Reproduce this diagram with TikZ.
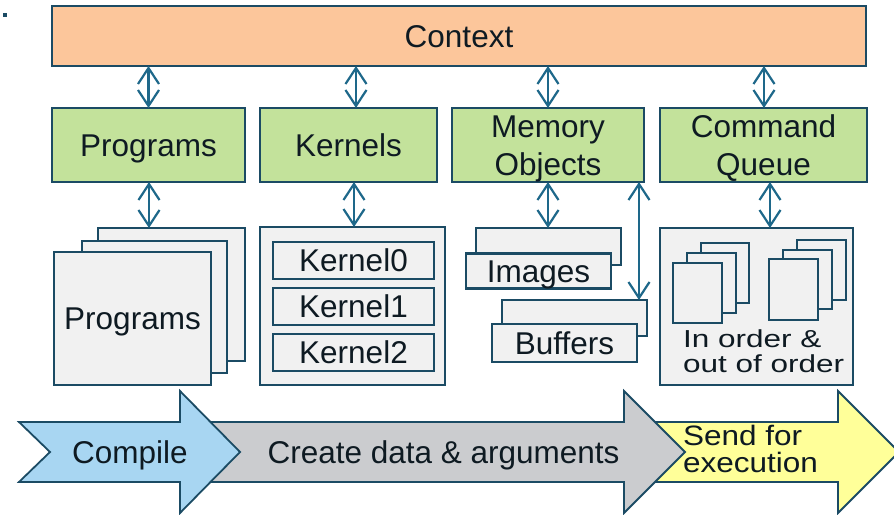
\documentclass[tikz,border=0pt]{standalone}
\usepackage{fontspec}
\setmainfont{Liberation Sans}
\usepackage{graphicx}
\usetikzlibrary{arrows.meta}
\definecolor{edge}{RGB}{27,75,100}
\definecolor{arrowc}{RGB}{30,104,138}
\definecolor{peach}{RGB}{252,198,155}
\definecolor{grn}{RGB}{195,226,155}
\definecolor{sheetc}{RGB}{241,241,241}
\definecolor{blueA}{RGB}{168,214,242}
\definecolor{grayA}{RGB}{203,204,207}
\definecolor{yellowA}{RGB}{255,255,153}
\definecolor{txt}{RGB}{14,26,34}
\begin{document}
\begin{tikzpicture}[x=1pt,y=-1pt,
  every node/.style={text=txt, font=\fontsize{31.5}{34}\selectfont, inner sep=0pt, outer sep=0pt,
    text height=22.6pt, text depth=0pt},
  box/.style={draw=edge, line width=2.5pt, rectangle},
  gbox/.style={box, fill=grn},
  twoline/.style={text depth=37pt, font=\fontsize{31.5}{37.5}\selectfont},
  sheet/.style={box, fill=sheetc},
  kbox/.style={box, line width=2.2pt, fill=sheetc},
  dbl/.style={draw=arrowc, line width=2.2pt, arrows={Straight Barb[length=16pt,width=21pt]-Straight Barb[length=16pt,width=21pt]}},
  flow/.style={draw=edge, line width=1.8pt, line join=miter}
]
\clip (0,0) rectangle (894,514);
\fill[white] (0,0) rectangle (894,514);
\fill[edge] (3,13) rectangle (7,17);

% top row
\node[box, fill=peach, minimum width=814pt, minimum height=60pt] (ctx) at (459,36) {Context};
\node[gbox, minimum width=193pt, minimum height=74pt] (prog) at (148.5,145) {Programs};
\node[gbox, minimum width=177pt, minimum height=74pt] (kern) at (348.5,145) {Kernels};
\node[gbox, twoline, minimum width=192pt, minimum height=74pt] (mem) at (548,145)
  {\begin{tabular}[t]{@{}c@{}}Memory\\Objects\end{tabular}};
\node[gbox, twoline, minimum width=207pt, minimum height=74pt] (cq) at (763.5,145)
  {\begin{tabular}[t]{@{}c@{}}Command\\Queue\end{tabular}};

% programs stack
\node[sheet, minimum width=147pt, minimum height=133pt] (p3) at (171.5,294.5) {};
\node[sheet, minimum width=145pt, minimum height=132pt] (p2) at (154.5,307) {};
\node[sheet, minimum width=157pt, minimum height=133pt] (p1) at (132.5,318.5) {Programs};

% kernels
\node[sheet, minimum width=185pt, minimum height=158pt] (kc) at (352.5,306) {};
\node[kbox, minimum width=161pt, minimum height=37pt] (k0) at (353.5,260.5) {Kernel0};
\node[kbox, minimum width=161pt, minimum height=37pt] (k1) at (353.5,306.5) {Kernel1};
\node[kbox, minimum width=161pt, minimum height=37pt] (k2) at (353.5,352.5) {Kernel2};

% memory objects
\node[sheet, minimum width=145pt, minimum height=37pt] (i2) at (548.5,246.5) {};
\node[sheet, minimum width=145pt, minimum height=35pt] (i1) at (538.5,271) {Images};
\node[sheet, minimum width=145pt, minimum height=36pt] (b2) at (574.5,318) {};
\node[sheet, minimum width=145pt, minimum height=38pt] (b1) at (564.5,343) {Buffers};

% command queue
\node[sheet, minimum width=193pt, minimum height=157pt] (cc) at (756.5,306.5) {};
\node[sheet, minimum width=48pt, minimum height=60pt] (a3) at (725,273) {};
\node[sheet, minimum width=49pt, minimum height=60pt] (a2) at (711.5,283) {};
\node[sheet, minimum width=49pt, minimum height=60pt] (a1) at (697.5,293) {};
\node[sheet, minimum width=49pt, minimum height=60pt] (c3) at (821.5,270) {};
\node[sheet, minimum width=49pt, minimum height=59pt] (c2) at (807.5,279.5) {};
\node[sheet, minimum width=49pt, minimum height=61pt] (c1) at (793.5,289.5) {};
\node[anchor=base west] (ordtxt) at (683,347)
  {\scalebox{1}[0.78]{\fontsize{31.5}{33}\selectfont\begin{tabular}[t]{@{}l@{}}In order \&\\out of order\end{tabular}}};

% connectors context <-> boxes
\draw[dbl] (prog.north |- ctx.south) -- (prog.north);
\draw[dbl] ([xshift=7.5pt]kern.north |- ctx.south) -- ([xshift=7.5pt]kern.north);
\draw[dbl] (mem.north |- ctx.south) -- (mem.north);
\draw[dbl] ([xshift=0.5pt]cq.north |- ctx.south) -- ([xshift=0.5pt]cq.north);

% connectors boxes <-> contents
\draw[dbl] ([xshift=0.5pt]prog.south) -- ([xshift=0.5pt]prog.south |- p3.north);
\draw[dbl] ([xshift=5.5pt]kern.south) -- ([xshift=5.5pt]kern.south |- kc.north);
\draw[dbl] (mem.south) -- (mem.south |- i2.north);
\draw[dbl] ([xshift=91pt]mem.south) -- ([xshift=91pt]mem.south |- b2.north);
\draw[dbl] ([xshift=6.5pt]cq.south) -- ([xshift=6.5pt]cq.south |- cc.north);

% process arrows
\draw[flow, fill=yellowA] (640,422) -- (838,422) -- (838,391) -- (899,452) -- (838,513) -- (838,482) -- (640,482) -- cycle;
\draw[flow, fill=grayA] (200,422) -- (624,422) -- (624,391) -- (685,452) -- (624,513) -- (624,482) -- (200,482) -- cycle;
\draw[flow, fill=blueA] (19,422) -- (180,422) -- (180,391) -- (240,452) -- (180,513) -- (180,482) -- (19,482) -- (50,452) -- cycle;
\node (compile) at (130,452.5) {Compile};
\node (create) at (443.5,452.5) {Create data \& arguments};
\node[anchor=base west] (send) at (683,445)
  {\scalebox{1}[0.89]{\fontsize{31.5}{28}\selectfont\begin{tabular}[t]{@{}l@{}}Send for\\execution\end{tabular}}};
\end{tikzpicture}
\end{document}
